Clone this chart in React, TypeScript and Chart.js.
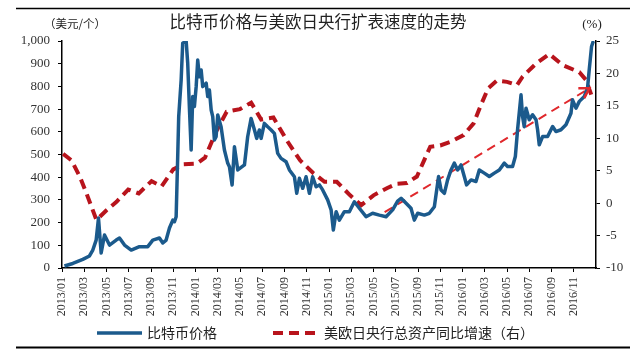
import React, { useEffect, useRef } from "react";
import { Chart, registerables } from "chart.js";

Chart.register(...registerables);

const titleText = "比特币价格与美欧日央行扩表速度的走势";
const leftUnit = "（美元/个）";
const rightUnit = "(%)";
const btcLabel = "比特币价格";
const bsLabel = "美欧日央行总资产同比增速（右）";

const xLabels = [
  "2013/01", "2013/03", "2013/05", "2013/07", "2013/09", "2013/11",
  "2014/01", "2014/03", "2014/05", "2014/07", "2014/09", "2014/11",
  "2015/01", "2015/03", "2015/05", "2015/07", "2015/09", "2015/11",
  "2016/01", "2016/03", "2016/05", "2016/07", "2016/09", "2016/11",
];

// months elapsed since 2013/01
const btcMonth = [
  0.22, 0.97, 1.87, 2.47, 2.77, 3.07, 3.28, 3.52, 3.82, 4.27,
  4.87, 5.17, 5.62, 6.22, 6.96, 7.71, 8.16, 8.76, 9.06, 9.36,
  9.66, 9.96, 10.11, 10.26, 10.4, 10.49, 10.71, 10.85, 11.16, 11.3,
  11.46, 11.61, 11.75, 11.9, 12.06, 12.2, 12.35, 12.51, 12.65, 12.96,
  13.1, 13.25, 13.41, 13.55, 13.7, 13.85, 14.0, 14.3, 14.6, 14.9,
  15.05, 15.29, 15.5, 15.8, 16.4, 16.69, 17.0, 17.3, 17.5, 17.74,
  17.9, 18.19, 18.49, 18.8, 19.09, 19.39, 19.69, 20.14, 20.44, 20.89,
  21.1, 21.34, 21.64, 21.94, 22.24, 22.53, 22.84, 23.14, 23.43, 23.88,
  24.19, 24.39, 24.64, 24.93, 25.38, 25.83, 26.28, 26.73, 27.33, 27.92,
  28.53, 29.13, 29.72, 30.17, 30.48, 30.93, 31.37, 31.67, 31.97, 32.57,
  33.02, 33.47, 33.85, 34.07, 34.37, 34.66, 34.97, 35.26, 35.56, 35.87,
  36.16, 36.37, 36.77, 37.21, 37.51, 37.96, 38.41, 38.86, 39.31, 39.76,
  40.05, 40.5, 40.75, 40.95, 41.26, 41.4, 41.55, 41.71, 42.0, 42.3,
  42.61, 42.75, 42.9, 43.2, 43.65, 44.1, 44.4, 44.85, 45.3, 45.75,
  45.89, 46.2, 46.5, 46.95, 47.24, 47.39, 47.6, 47.75, 47.84,
];

const btcPrice = [
  9, 20, 38, 53, 79, 123, 220, 66, 145, 101,
  123, 132, 101, 79, 94, 94, 123, 132, 110, 123,
  176, 211, 204, 226, 490, 667, 828, 990, 1000, 902,
  696, 520, 755, 711, 799, 916, 843, 872, 799, 814,
  755, 784, 696, 667, 564, 578, 674, 622, 520, 461,
  446, 366, 534, 432, 454, 578, 659, 608, 571, 608,
  571, 637, 622, 608, 593, 505, 483, 468, 432, 402,
  329, 395, 351, 402, 329, 402, 358, 366, 344, 300,
  256, 167, 248, 211, 248, 248, 292, 263, 226, 241,
  233, 226, 256, 295, 307, 285, 263, 211, 241, 233,
  241, 270, 403, 344, 329, 388, 432, 462, 432, 454,
  403, 366, 388, 381, 432, 418, 403, 418, 432, 462,
  447, 447, 491, 609, 763, 667, 622, 704, 653, 675,
  653, 609, 543, 579, 579, 623, 601, 609, 631, 682,
  741, 704, 734, 756, 793, 873, 976, 998, 1000,
];

const bsMonth = [
  0.1, 0.85, 1.6, 2.2, 3.1, 4.0, 4.9, 5.95, 6.9, 8.05,
  8.95, 10.0, 10.9, 12.1, 12.85, 13.9, 14.8, 16.0, 17.0, 17.9,
  19.0, 20.2, 21.4, 22.6, 23.6, 24.7, 25.9, 26.9, 28.0, 29.2,
  30.1, 31.0, 31.9, 32.5, 33.1, 34.0, 35.0, 36.1, 37.0, 37.6,
  38.3, 39.1, 40.0, 40.9, 41.4, 42.6, 43.8, 45.0, 46.5, 47.1,
  47.7,
];

const bsGrowth = [
  7.6, 6.6, 4.1, 1.5, -2.6, -1.1, 0.2, 2.1, 1.5, 3.4,
  2.6, 5.2, 6.0, 6.1, 7.0, 11.2, 14.1, 14.5, 15.5, 12.9,
  13.2, 9.7, 6.6, 4.6, 3.3, 3.3, 1.2, -0.3, 1.2, 2.3,
  3.0, 3.1, 4.1, 6.4, 8.7, 8.9, 9.5, 10.5, 12.3, 14.9,
  17.7, 18.9, 18.7, 18.2, 19.5, 21.5, 23.0, 21.3, 20.2, 19.0,
  16.1,
];

const trendMonth = [29.0, 47.4];
const trendValue = [-1.4, 17.7];

const leftTicks = { min: 0, max: 1000, step: 100 };
const rightTicks = { min: -10, max: 25, step: 5 };

const SERIF = "'Liberation Serif', 'Times New Roman', 'Noto Sans CJK SC', serif";
const CJK = "'Noto Sans CJK SC', 'Liberation Serif', sans-serif";

const BLUE = "#1b5a8c";
const RED = "#b8141c";
const RED2 = "#e0282c";

const overlayPlugin = {
  id: "overlay",
  afterDraw(chart: any) {
    const ctx = chart.ctx as CanvasRenderingContext2D;
    const w = chart.width;
    ctx.save();
    ctx.strokeStyle = "#000";
    ctx.lineWidth = 1.5;
    ctx.beginPath();
    ctx.moveTo(16, 8.5);
    ctx.lineTo(w - 10, 8.5);
    ctx.stroke();
    ctx.lineWidth = 2;
    ctx.beginPath();
    ctx.moveTo(16, 347.5);
    ctx.lineTo(w - 10, 347.5);
    ctx.stroke();

    ctx.fillStyle = "#222";
    ctx.textBaseline = "middle";
    ctx.textAlign = "center";
    ctx.font = `16.5px ${CJK}`;
    ctx.fillText(titleText, 318, 22);
    ctx.font = `11.5px ${CJK}`;
    ctx.fillText(leftUnit, 75, 24);
    ctx.font = `13px ${SERIF}`;
    ctx.fillText(rightUnit, 592, 25);

    const meta = chart.getDatasetMeta(2);
    if (meta && meta.data.length >= 2) {
      const p1 = meta.data[meta.data.length - 2];
      const p2 = meta.data[meta.data.length - 1];
      const ang = Math.atan2(p2.y - p1.y, p2.x - p1.x);
      const L = 11;
      ctx.strokeStyle = RED2;
      ctx.lineWidth = 2.5;
      ctx.setLineDash([]);
      ctx.beginPath();
      ctx.moveTo(p2.x - L * Math.cos(ang - 0.55), p2.y - L * Math.sin(ang - 0.55));
      ctx.lineTo(p2.x, p2.y);
      ctx.lineTo(p2.x - L * Math.cos(ang + 0.55), p2.y - L * Math.sin(ang + 0.55));
      ctx.stroke();
    }

    const ds = chart.data.datasets;
    const ly = 333;
    const items = [
      { x0: 97, x1: 142, tx: 147, d: ds[0] },
      { x0: 273, x1: 316, tx: 324, d: ds[1] },
    ];
    items.forEach((it) => {
      ctx.strokeStyle = it.d.borderColor;
      ctx.lineWidth = it.d.borderWidth;
      ctx.setLineDash(it.d.borderDash || []);
      ctx.beginPath();
      ctx.moveTo(it.x0, ly);
      ctx.lineTo(it.x1, ly);
      ctx.stroke();
      ctx.setLineDash([]);
      ctx.fillStyle = "#222";
      ctx.textAlign = "left";
      ctx.textBaseline = "middle";
      ctx.font = `14px ${CJK}`;
      ctx.fillText(it.d.label, it.tx, ly);
    });
    ctx.restore();
  },
};

export default function App() {
  const ref = useRef<HTMLCanvasElement | null>(null);

  useEffect(() => {
    if (!ref.current) return;
    const btcData = btcMonth.map((m, i) => ({ x: m, y: btcPrice[i] }));
    const bsData = bsMonth.map((m, i) => ({ x: m, y: bsGrowth[i] }));
    const trendData = trendMonth.map((m, i) => ({ x: m, y: trendValue[i] }));

    const chart = new Chart(ref.current, {
      type: "line",
      data: {
        datasets: [
          {
            label: btcLabel,
            data: btcData,
            yAxisID: "y",
            borderColor: BLUE,
            backgroundColor: BLUE,
            borderWidth: 3.5,
            pointRadius: 0,
            tension: 0,
            borderJoinStyle: "round",
          },
          {
            label: bsLabel,
            data: bsData,
            yAxisID: "y1",
            borderColor: RED,
            backgroundColor: RED,
            borderWidth: 4,
            borderDash: [10, 6],
            pointRadius: 0,
            tension: 0,
          },
          {
            label: "trend",
            data: trendData,
            yAxisID: "y1",
            borderColor: RED2,
            backgroundColor: RED2,
            borderWidth: 2,
            borderDash: [9, 6],
            pointRadius: 0,
          },
        ],
      },
      options: {
        animation: false,
        responsive: true,
        maintainAspectRatio: false,
        layout: { padding: { top: 41, bottom: 0, left: 0, right: 0 } },
        plugins: {
          legend: { display: false },
          title: { display: false },
          tooltip: { enabled: false },
        },
        scales: {
          x: {
            type: "linear",
            min: 0,
            max: 48,
            afterBuildTicks: (scale: any) => {
              scale.ticks = xLabels.map((_, i) => ({ value: i * 2 }));
            },
            afterFit: (scale: any) => {
              scale.height = 86;
            },
            ticks: {
              autoSkip: false,
              minRotation: 90,
              maxRotation: 90,
              padding: 5,
              color: "#333",
              font: { family: SERIF, size: 12 },
              callback: (v: any) => xLabels[Math.round(Number(v) / 2)] ?? "",
            },
            grid: {
              drawOnChartArea: false,
              drawTicks: true,
              tickLength: 4,
              color: "#000",
            },
            border: { color: "#000", width: 1.5 },
          },
          y: {
            type: "linear",
            position: "left",
            min: leftTicks.min,
            max: leftTicks.max,
            afterFit: (scale: any) => {
              scale.width = 62;
            },
            ticks: {
              stepSize: leftTicks.step,
              padding: 8,
              color: "#333",
              font: { family: SERIF, size: 13 },
              callback: (v: any) => Number(v).toLocaleString("en-US"),
            },
            grid: {
              drawOnChartArea: false,
              drawTicks: true,
              tickLength: 4,
              color: "#000",
            },
            border: { color: "#000", width: 1.5 },
          },
          y1: {
            type: "linear",
            position: "right",
            min: rightTicks.min,
            max: rightTicks.max,
            afterFit: (scale: any) => {
              scale.width = 44;
            },
            ticks: {
              stepSize: rightTicks.step,
              padding: 6,
              color: "#333",
              font: { family: SERIF, size: 13 },
            },
            grid: {
              drawOnChartArea: false,
              drawTicks: true,
              tickLength: 4,
              color: "#000",
            },
            border: { color: "#000", width: 1.5 },
          },
        },
      },
      plugins: [overlayPlugin],
    });
    return () => chart.destroy();
  }, []);

  return (
    <div
      style={{
        position: "fixed",
        left: 0,
        top: 0,
        width: 640,
        height: 354,
        background: "#fff",
      }}
    >
      <canvas ref={ref} />
    </div>
  );
}
